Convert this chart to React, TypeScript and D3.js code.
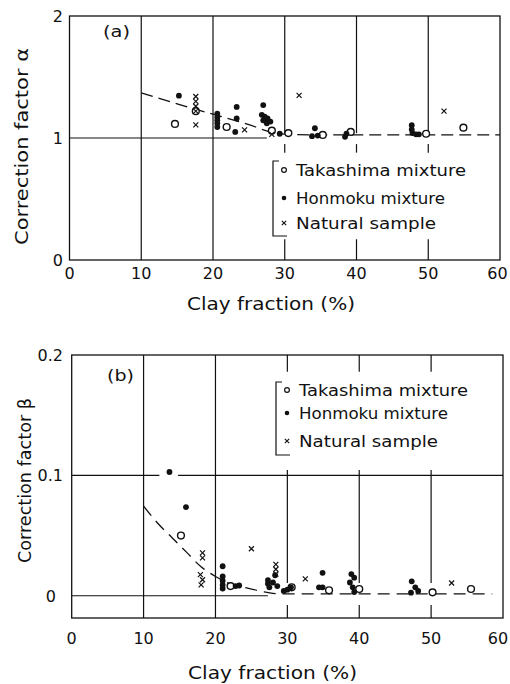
import React from "react";
import * as d3 from "d3";

// ---------- data ----------
const xTicks = [0, 10, 20, 30, 40, 50, 60];
const yTicksA = ["0", "1", "2"];
const yTicksB = ["0", "0.1", "0.2"];
const legendLabels = ["Takashima mixture", "Honmoku mixture", "Natural sample"];

// Panel (a) – correction factor alpha
const takashimaA: [number, number][] = [
  [14.7, 1.115], [17.6, 1.22], [21.9, 1.09], [28.2, 1.06], [30.5, 1.04],
  [35.3, 1.025], [39.2, 1.05], [49.7, 1.035], [54.9, 1.085],
];
const honmokuA: [number, number][] = [
  [15.25, 1.347], [20.6, 1.2], [20.6, 1.17], [20.6, 1.145], [20.6, 1.12], [20.6, 1.09],
  [23.3, 1.255], [23.3, 1.16], [23.1, 1.05],
  [27.0, 1.27], [26.8, 1.19], [27.2, 1.175], [27.6, 1.16], [27.0, 1.145], [28.0, 1.135], [27.5, 1.12],
  [29.3, 1.035], [33.8, 1.015], [34.2, 1.08], [34.6, 1.02], [38.6, 1.035], [38.4, 1.01],
  [47.7, 1.105], [47.7, 1.07], [47.8, 1.04], [48.3, 1.03], [48.7, 1.03],
];
const naturalA: [number, number][] = [
  [17.6, 1.34], [17.6, 1.30], [17.6, 1.26], [17.6, 1.22], [17.6, 1.107],
  [24.4, 1.066], [28.2, 1.03], [32.0, 1.35], [52.2, 1.22],
];
const curveAX = [10, 15, 20, 25, 28, 30, 35, 60];
const curveAY = [1.37, 1.28, 1.195, 1.11, 1.05, 1.032, 1.025, 1.025];

// Panel (b) – correction factor beta
const takashimaB: [number, number][] = [
  [15.2, 0.05], [22.1, 0.008], [30.6, 0.007], [35.8, 0.0045], [40.0, 0.0056],
  [50.2, 0.0028], [55.55, 0.0056],
];
const honmokuB: [number, number][] = [
  [13.6, 0.1028], [15.9, 0.0736],
  [21.0, 0.0245], [21.0, 0.016], [21.0, 0.0125], [21.0, 0.009], [21.0, 0.006],
  [22.8, 0.008], [23.3, 0.0085],
  [27.3, 0.013], [27.3, 0.01], [27.5, 0.007], [28.0, 0.011], [28.6, 0.008], [28.3, 0.017],
  [29.5, 0.004], [30.0, 0.005], [30.5, 0.007],
  [34.9, 0.019], [34.4, 0.007], [34.9, 0.007],
  [38.9, 0.018], [39.3, 0.015], [38.7, 0.011], [39.1, 0.007], [39.3, 0.003],
  [47.3, 0.012], [47.8, 0.007], [47.2, 0.0025], [48.2, 0.004],
];
const naturalB: [number, number][] = [
  [18.2, 0.0356], [18.2, 0.0314], [17.9, 0.0175], [18.2, 0.0133], [18.0, 0.009],
  [25.0, 0.039], [28.4, 0.026], [28.4, 0.022], [28.4, 0.018], [32.5, 0.014], [52.85, 0.0106],
];
const curveBX = [10, 12, 14, 16, 18, 20, 22, 24, 27, 29, 58.5];
const curveBY = [0.0744, 0.06, 0.048, 0.036, 0.024, 0.016, 0.01, 0.007, 0.003, 0.0015, 0.0015];

// ---------- styling ----------
const FONT = "'DejaVu Sans', sans-serif";
const INK = "#111";

function Markers({ data, kind, x, y }: any) {
  return (
    <g>
      {data.map((d: [number, number], i: number) => {
        const cx = x(d[0]);
        const cy = y(d[1]);
        if (kind === "open")
          return <circle key={i} cx={cx} cy={cy} r={3.4} fill="white" stroke={INK} strokeWidth={1.4} />;
        if (kind === "filled") return <circle key={i} cx={cx} cy={cy} r={2.9} fill={INK} />;
        const s = 2.5;
        return (
          <path key={i} d={`M${cx - s},${cy - s}L${cx + s},${cy + s}M${cx - s},${cy + s}L${cx + s},${cy - s}`}
            stroke={INK} strokeWidth={1.2} fill="none" />
        );
      })}
    </g>
  );
}

function Legend({ x0, yTop, yBot, rows, textEnds }: any) {
  const sx = x0 + 11;
  const tx = x0 + 23;
  return (
    <g>
      <path d={`M${x0 + 6},${yTop}H${x0}V${yBot}H${x0 + 14}`} fill="none" stroke={INK} strokeWidth={1.2} />
      <circle cx={sx} cy={rows[0]} r={2.4} fill="white" stroke={INK} strokeWidth={1.2} />
      <circle cx={sx} cy={rows[1]} r={2.3} fill={INK} />
      <path d={`M${sx - 2.2},${rows[2] - 2.2}L${sx + 2.2},${rows[2] + 2.2}M${sx - 2.2},${rows[2] + 2.2}L${sx + 2.2},${rows[2] - 2.2}`}
        stroke={INK} strokeWidth={1.1} />
      {legendLabels.map((t, i) => (
        <text key={t} x={tx} y={rows[i] + 6} fontSize={16} fontFamily={FONT} fill={INK}
          textLength={textEnds[i] - tx} lengthAdjust="spacingAndGlyphs">{t}</text>
      ))}
    </g>
  );
}

export default function App() {
  // panel (a) scales
  const xA = d3.scaleLinear().domain([0, 60]).range([69.5, 500]);
  const yA = d3.scaleLinear().domain([0, 2]).range([260, 16]);
  // panel (b) scales
  const xB = d3.scaleLinear().domain([0, 60]).range([71.7, 503]);
  const yB = d3.scaleLinear().domain([-0.0185, 0.2]).range([618, 355]);

  const lineA = d3.line<number>().x((_, i) => xA(curveAX[i])).y((d) => yA(d)).curve(d3.curveMonotoneX);
  const lineB = d3.line<number>().x((_, i) => xB(curveBX[i])).y((d) => yB(d)).curve(d3.curveMonotoneX);

  const vSeg = (x: any, y: any, xv: number, segs: [number, number][]) =>
    segs.map((s, i) => (
      <line key={`${xv}-${i}`} x1={x(xv)} x2={x(xv)} y1={y(s[0])} y2={y(s[1])} stroke={INK} strokeWidth={1.2} />
    ));
  const hSeg = (x: any, y: any, yv: number, segs: [number, number][]) =>
    segs.map((s, i) => (
      <line key={`h${yv}-${i}`} x1={x(s[0])} x2={x(s[1])} y1={y(yv)} y2={y(yv)} stroke={INK} strokeWidth={1.2} />
    ));
  // keep the right-most tick label inside the page
  const tickX = (x: any, t: number, maxC: number) => Math.min(x(t), maxC);

  return (
    <svg width={510} height={684} style={{ position: "absolute", left: 0, top: 0, background: "white" }}>
      <rect width={510} height={684} fill="white" />

      {/* ===== Panel (a) ===== */}
      <rect x={xA(0)} y={yA(2)} width={xA(60) - xA(0)} height={yA(0) - yA(2)} fill="none" stroke={INK} strokeWidth={1.3} />
      {vSeg(xA, yA, 10, [[0, 2]])}
      {vSeg(xA, yA, 20, [[0, 2]])}
      {[30, 40, 50].map((v) => vSeg(xA, yA, v, [[2, 1.04], [0.95, 0.88], [0.17, 0]]))}
      {hSeg(xA, yA, 1, [[0, 27.5]])}
      <path d={lineA(curveAY) || ""} fill="none" stroke={INK} strokeWidth={1.3} strokeDasharray="12,6" />
      <Markers data={takashimaA} kind="open" x={xA} y={yA} />
      <Markers data={honmokuA} kind="filled" x={xA} y={yA} />
      <Markers data={naturalA} kind="cross" x={xA} y={yA} />
      <text x={103} y={37} fontSize={15} fontFamily={FONT} fill={INK} textLength={27} lengthAdjust="spacingAndGlyphs">(a)</text>
      <Legend x0={273} yTop={161} yBot={236} rows={[170, 198, 223]} textEnds={[466, 445, 436]} />
      {xTicks.map((t) => (
        <text key={`xa${t}`} x={tickX(xA, t, 497.5)} y={279} fontSize={16} fontFamily={FONT} fill={INK} textAnchor="middle">{t}</text>
      ))}
      {yTicksA.map((t) => (
        <text key={`ya${t}`} x={63} y={yA(+t) + 6} fontSize={16} fontFamily={FONT} fill={INK} textAnchor="end">{t}</text>
      ))}
      <text x={187} y={310} fontSize={17} fontFamily={FONT} fill={INK} textLength={168} lengthAdjust="spacingAndGlyphs">Clay fraction (%)</text>
      <text transform="translate(28,146.5) rotate(-90)" fontSize={17} fontFamily={FONT} fill={INK} textAnchor="middle"
        textLength={197} lengthAdjust="spacingAndGlyphs">Correction factor α</text>

      {/* ===== Panel (b) ===== */}
      <rect x={xB(0)} y={yB(0.2)} width={xB(60) - xB(0)} height={yB(-0.0185) - yB(0.2)} fill="none" stroke={INK} strokeWidth={1.3} />
      {vSeg(xB, yB, 10, [[-0.0185, 0.2]])}
      {vSeg(xB, yB, 20, [[-0.0185, 0.2]])}
      {[30, 40, 50].map((v) => vSeg(xB, yB, v, [[0.2, 0.186], [0.1045, 0.0106], [-0.0077, -0.0185]]))}
      {hSeg(xB, yB, 0.1, [[0, 12.2], [14.8, 60]])}
      {hSeg(xB, yB, 0, [[0, 27.3]])}
      <path d={lineB(curveBY) || ""} fill="none" stroke={INK} strokeWidth={1.3} strokeDasharray="12,7" />
      <Markers data={takashimaB} kind="open" x={xB} y={yB} />
      <Markers data={honmokuB} kind="filled" x={xB} y={yB} />
      <Markers data={naturalB} kind="cross" x={xB} y={yB} />
      <text x={107} y={381} fontSize={15} fontFamily={FONT} fill={INK} textLength={27} lengthAdjust="spacingAndGlyphs">(b)</text>
      <Legend x0={276} yTop={382} yBot={455} rows={[390, 413, 441]} textEnds={[468, 448, 438]} />
      {xTicks.map((t) => (
        <text key={`xb${t}`} x={tickX(xB, t, 498)} y={644} fontSize={16} fontFamily={FONT} fill={INK} textAnchor="middle">{t}</text>
      ))}
      {yTicksB.map((t) => (
        <text key={`yb${t}`} x={t === "0" ? 56 : 63} y={yB(+t) + 6} fontSize={16} fontFamily={FONT} fill={INK} textAnchor="end">{t}</text>
      ))}
      <text x={188} y={679} fontSize={17} fontFamily={FONT} fill={INK} textLength={169} lengthAdjust="spacingAndGlyphs">Clay fraction (%)</text>
      <text transform="translate(31,480.5) rotate(-90)" fontSize={17} fontFamily={FONT} fill={INK} textAnchor="middle"
        textLength={165} lengthAdjust="spacingAndGlyphs">Correction factor β</text>
    </svg>
  );
}
